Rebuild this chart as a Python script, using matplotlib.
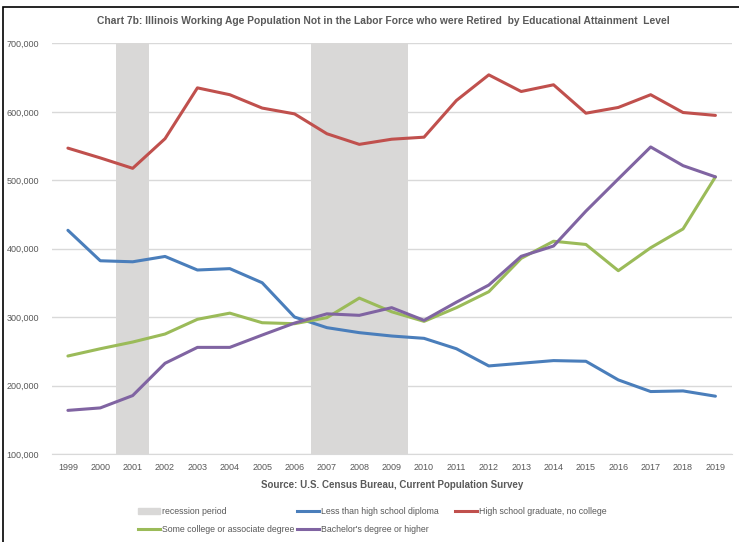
import matplotlib
matplotlib.use("Agg")
import matplotlib.pyplot as plt
from matplotlib.patches import Rectangle
from matplotlib.lines import Line2D
from matplotlib.ticker import FuncFormatter

plt.rcParams['font.family'] = ['Liberation Sans', 'DejaVu Sans']

# --- data ---
years = list(range(1999, 2020))
recession = [0, 0, 700000, 0, 0, 0, 0, 0, 700000, 700000, 700000,
             0, 0, 0, 0, 0, 0, 0, 0, 0, 0]
less_hs = [427000, 382500, 381000, 388800, 369000, 371000, 350400, 300300, 284800, 277500, 272600,
           269200, 254000, 228900, 232800, 236700, 235700, 208500, 191500, 192400, 184700]
hs_grad = [547000, 532700, 517500, 560800, 635000, 625000, 605500, 597000, 568000, 552500, 560000,
           563000, 616600, 654000, 629700, 639500, 598000, 606400, 625000, 599000, 594800]
some_college = [243400, 254000, 263800, 275500, 297000, 306000, 292000, 290600, 299400, 328000, 308000,
                294000, 314000, 337300, 386000, 411000, 406300, 368000, 401500, 429000, 505000]
bachelors = [164000, 167600, 185600, 232800, 256000, 256000, 274000, 291500, 305000, 302800, 314000,
             295500, 322000, 347000, 389000, 404000, 455000, 502000, 548700, 521400, 505000]

labels = ["recession period", "Less than high school diploma", "High school graduate, no college",
          "Some college or associate degree", "Bachelor's degree or higher"]
colors = ["#d9d8d7", "#4a7ebb", "#c0504d", "#9bbb59", "#8064a2"]

txt = "#595959"

fig = plt.figure(figsize=(7.39, 5.42), dpi=100)
ax = fig.add_axes([0.070, 0.162, 0.920, 0.758])

# recession bars
ax.bar(years, recession, width=1.0, color=colors[0], zorder=1)

series = [less_hs, hs_grad, some_college, bachelors]
for vals, c in zip(series, colors[1:]):
    ax.plot(years, vals, color=c, lw=2.2, zorder=3, solid_capstyle='round')

ax.set_xlim(1998.5, 2019.5)
ax.set_ylim(100000, 700000)
ax.set_yticks(range(100000, 700001, 100000))
ax.yaxis.set_major_formatter(FuncFormatter(lambda v, p: f"{int(v):,}"))
ax.set_xticks(years)
ax.set_xticklabels([str(y) for y in years])
ax.grid(axis='y', color='#d9d9d9', lw=1, zorder=0)
ax.set_axisbelow(True)
for s in ['top', 'right', 'left']:
    ax.spines[s].set_visible(False)
ax.spines['bottom'].set_color('#d9d9d9')
ax.tick_params(length=0, colors=txt, labelsize=6.5)
ax.tick_params(axis='y', pad=9)
ax.tick_params(axis='x', pad=6)

fig.text(0.519, 0.961, "Chart 7b: Illinois Working Age Population Not in the Labor Force who were Retired  by Educational Attainment  Level",
         ha='center', va='center', fontsize=7.4, fontweight='bold', color=txt)
fig.text(0.530, 0.106, "Source: U.S. Census Bureau, Current Population Survey",
         ha='center', va='center', fontsize=7, fontweight='bold', color=txt)

# legend: three single-column legends so columns sit where the original has them
h = [Rectangle((0, 0), 1, 1, color=colors[0]),
     Line2D([], [], color=colors[1], lw=2.2),
     Line2D([], [], color=colors[2], lw=2.2),
     Line2D([], [], color=colors[3], lw=2.2),
     Line2D([], [], color=colors[4], lw=2.2)]
cols = [([0, 3], 138), ([1, 4], 297), ([2], 455)]
for idx, x0 in cols:
    leg = fig.legend([h[i] for i in idx], [labels[i] for i in idx],
                     loc='upper left', bbox_to_anchor=(x0 / 739, 1 - 507 / 542), frameon=False,
                     fontsize=6.3, handlelength=2.5, handleheight=0.8, handletextpad=0.2,
                     labelspacing=1.05, borderaxespad=0, borderpad=0)
    for t in leg.get_texts():
        t.set_color(txt)

# outer frame (cropped on right and bottom)
fig.patches.append(Rectangle((3 / 739, -0.05), 1.1, 1 - 7 / 542 + 0.05, transform=fig.transFigure,
                             fill=False, edgecolor='black', lw=1.2))

fig.savefig("out.png", dpi=100)
